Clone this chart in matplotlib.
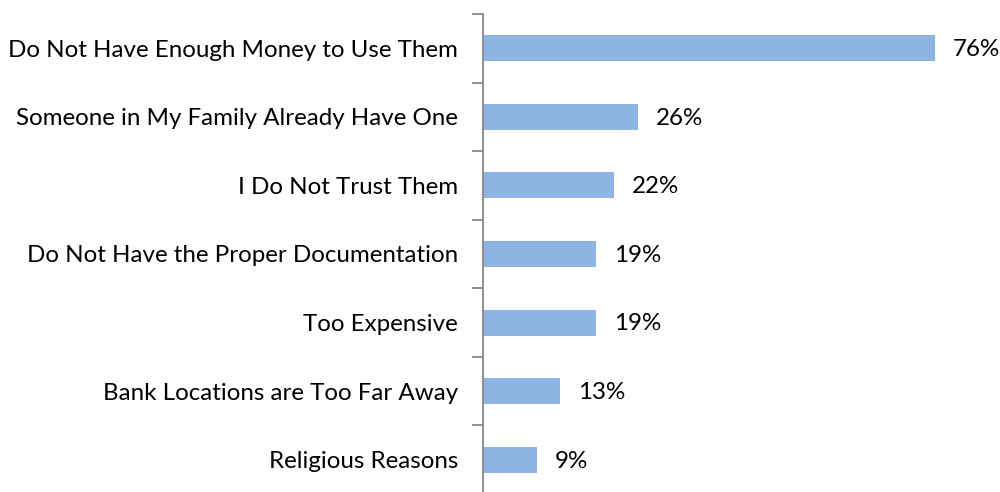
import matplotlib.pyplot as plt
import numpy as np

reasons = ['Do Not Have Enough Money to Use Them',
           'Someone in My Family Already Have One',
           'I Do Not Trust Them',
           'Do Not Have the Proper Documentation',
           'Too Expensive',
           'Bank Locations are Too Far Away',
           'Religious Reasons']
shares = [76, 26, 22, 19, 19, 13, 9]

plt.rcParams['font.family'] = ['Lato', 'DejaVu Sans']

fig = plt.figure(figsize=(10, 4.92), dpi=100)
ax = fig.add_axes([0.483, -0.004, 0.476, 0.9755])

y_pos = np.arange(len(reasons))
ax.barh(y_pos, shares, height=0.38, color='#8EB4E3')
ax.set_ylim(len(reasons) - 0.5, -0.5)
ax.set_xlim(0, 80)

for y, v in zip(y_pos, shares):
    ax.text(v + 3, y + 0.02, f'{v}%', va='center', ha='left', fontsize=17.4, color='black')

ax.set_yticks(y_pos)
ax.set_yticklabels(reasons, fontsize=17.4)
ax.tick_params(axis='y', which='major', length=0, pad=18)
ax.set_yticks(np.arange(len(reasons) + 1) - 0.5, minor=True)
ax.tick_params(axis='y', which='minor', length=8, width=1.3, color='#878787')
ax.set_xticks([])

for side in ['top', 'right', 'bottom']:
    ax.spines[side].set_visible(False)
ax.spines['left'].set_color('#878787')
ax.spines['left'].set_linewidth(1.3)

fig.savefig('out.png', dpi=100)
